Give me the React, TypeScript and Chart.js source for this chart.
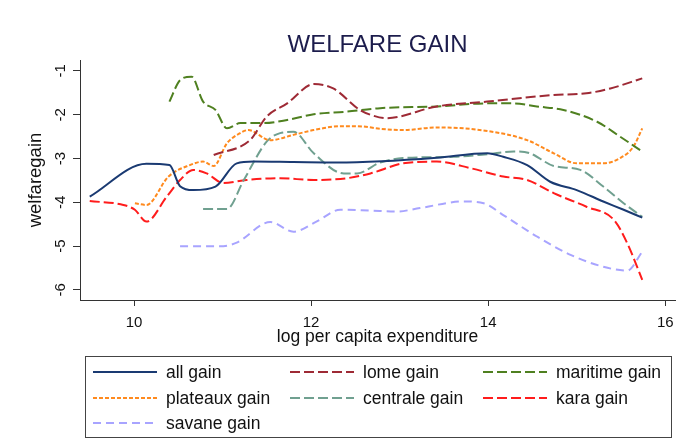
import React, { useEffect, useRef } from "react";
import { Chart, registerables } from "chart.js";

Chart.register(...registerables);

const FONT = "'Liberation Sans', Arial, sans-serif";

const xTicks = [10, 12, 14, 16];
const yTicks = [-6, -5, -4, -3, -2, -1];

const allX = [9.50, 10.14, 10.40, 10.52, 10.67, 10.92, 11.16, 11.35, 11.8, 12.3, 12.8, 13.42, 13.99, 14.17, 14.44, 14.70, 15.00, 15.30, 15.53, 15.74];
const allY = [-3.87, -3.12, -3.15, -3.63, -3.72, -3.64, -3.11, -3.07, -3.08, -3.09, -3.06, -2.98, -2.88, -2.96, -3.15, -3.53, -3.72, -3.98, -4.17, -4.35];

const lomeX = [10.90, 11.31, 11.50, 11.73, 12.03, 12.25, 12.55, 12.67, 12.85, 13.42, 13.99, 14.74, 15.11, 15.38, 15.74];
const lomeY = [-2.92, -2.58, -2.04, -1.74, -1.30, -1.40, -1.89, -2.00, -2.08, -1.81, -1.70, -1.55, -1.51, -1.40, -1.17];

const maritimeX = [10.40, 10.52, 10.65, 10.78, 10.92, 11.05, 11.20, 11.46, 11.73, 12.03, 12.40, 12.78, 13.42, 13.99, 14.29, 14.55, 14.85, 15.23, 15.49, 15.74];
const maritimeY = [-1.70, -1.21, -1.13, -1.70, -1.89, -2.31, -2.19, -2.19, -2.12, -1.99, -1.93, -1.85, -1.81, -1.74, -1.74, -1.81, -1.89, -2.16, -2.50, -2.84];

const plateauxX = [10.01, 10.14, 10.39, 10.63, 10.78, 10.90, 11.05, 11.18, 11.29, 11.54, 11.80, 12.03, 12.33, 12.59, 12.78, 13.04, 13.42, 13.99, 14.44, 14.74, 15.00, 15.30, 15.49, 15.64, 15.74];
const plateauxY = [-4.02, -4.06, -3.41, -3.15, -3.07, -3.17, -2.65, -2.44, -2.35, -2.58, -2.46, -2.35, -2.26, -2.27, -2.32, -2.35, -2.29, -2.37, -2.58, -2.88, -3.11, -3.11, -2.99, -2.73, -2.31];

const centraleX = [10.78, 11.05, 11.24, 11.50, 11.65, 11.80, 12.03, 12.37, 12.52, 12.78, 13.04, 13.61, 13.99, 14.29, 14.47, 14.74, 15.04, 15.30, 15.53, 15.74];
const centraleY = [-4.15, -4.15, -3.49, -2.61, -2.42, -2.39, -2.88, -3.34, -3.34, -3.09, -2.99, -2.96, -2.90, -2.84, -2.88, -3.17, -3.26, -3.64, -4.02, -4.33];

const karaX = [9.50, 9.88, 10.01, 10.14, 10.37, 10.52, 10.67, 10.82, 11.01, 11.27, 11.65, 12.03, 12.40, 12.67, 13.04, 13.42, 13.80, 14.17, 14.44, 14.74, 15.11, 15.42, 15.57, 15.74];
const karaY = [-3.97, -4.06, -4.17, -4.44, -3.87, -3.49, -3.26, -3.34, -3.56, -3.49, -3.45, -3.49, -3.45, -3.34, -3.11, -3.07, -3.22, -3.41, -3.49, -3.79, -4.10, -4.40, -4.93, -5.77];

const savaneX = [10.52, 11.01, 11.16, 11.54, 11.80, 12.06, 12.33, 12.67, 12.97, 13.23, 13.72, 13.95, 14.17, 14.55, 14.93, 15.30, 15.57, 15.74];
const savaneY = [-5.0, -5.0, -4.92, -4.45, -4.67, -4.44, -4.17, -4.19, -4.21, -4.13, -3.98, -4.02, -4.29, -4.78, -5.20, -5.47, -5.56, -5.13];

const seriesNames = ["all gain", "lome gain", "maritime gain", "plateaux gain", "centrale gain", "kara gain", "savane gain"];
const seriesX = [allX, lomeX, maritimeX, plateauxX, centraleX, karaX, savaneX];
const seriesY = [allY, lomeY, maritimeY, plateauxY, centraleY, karaY, savaneY];
const seriesColors = ["#1a3a72", "#9e2a35", "#4f8020", "#ff8a1e", "#70a090", "#ff1c1c", "#a8a4ff"];
const seriesDash = [[], [10, 4], [10, 4], [4, 2], [10, 4], [10, 4], [8, 5]];

const TITLE = "WELFARE GAIN";
const AXIS = "#333333";

const titlePlugin = {
  id: "stataTitle",
  afterDraw(chart: any) {
    const { ctx, chartArea } = chart;
    ctx.save();
    ctx.font = `24px ${FONT}`;
    ctx.fillStyle = "#1c1c4c";
    ctx.textAlign = "center";
    ctx.textBaseline = "alphabetic";
    ctx.fillText(TITLE, (chartArea.left + chartArea.right) / 2, 52);
    ctx.restore();
  },
};

const yLabelPlugin = {
  id: "rotatedYTicks",
  afterDraw(chart: any) {
    const { ctx } = chart;
    const y = chart.scales.y;
    ctx.save();
    ctx.font = `15px ${FONT}`;
    ctx.fillStyle = "#111";
    ctx.textAlign = "center";
    ctx.textBaseline = "middle";
    y.ticks.forEach((t: any) => {
      const py = y.getPixelForValue(t.value);
      ctx.save();
      ctx.translate(61, py);
      ctx.rotate(-Math.PI / 2);
      ctx.fillText(String(t.value), 0, 0);
      ctx.restore();
    });
    ctx.restore();
  },
};

const legendPlugin = {
  id: "stataLegend",
  afterDraw(chart: any) {
    const { ctx } = chart;
    ctx.save();
    ctx.strokeStyle = "#444";
    ctx.lineWidth = 1;
    ctx.strokeRect(85.5, 356.5, 586, 81);
    const colX = [93, 290, 483];
    const rowY = [372, 398, 423];
    chart.data.datasets.forEach((ds: any, i: number) => {
      const c = i % 3;
      const r = Math.floor(i / 3);
      const x0 = colX[c];
      const y0 = rowY[r];
      ctx.save();
      ctx.strokeStyle = ds.borderColor;
      ctx.lineWidth = 2;
      ctx.setLineDash(ds.borderDash || []);
      ctx.beginPath();
      ctx.moveTo(x0, y0);
      ctx.lineTo(x0 + 64, y0);
      ctx.stroke();
      ctx.restore();
      ctx.font = `17.5px ${FONT}`;
      ctx.fillStyle = "#111";
      ctx.textAlign = "left";
      ctx.textBaseline = "middle";
      ctx.fillText(ds.label, x0 + 73, y0 + 1);
    });
    ctx.restore();
  },
};

export default function App() {
  const ref = useRef<HTMLCanvasElement>(null);
  useEffect(() => {
    if (!ref.current) return;
    const datasets = seriesNames.map((name, i) => ({
      label: name,
      data: seriesX[i].map((x, j) => ({ x, y: seriesY[i][j] })),
      borderColor: seriesColors[i],
      backgroundColor: seriesColors[i],
      borderDash: seriesDash[i],
      borderWidth: 2,
      pointRadius: 0,
      showLine: true,
      fill: false,
      cubicInterpolationMode: "monotone" as const,
    }));
    const chart = new Chart(ref.current, {
      type: "scatter",
      data: { datasets },
      options: {
        animation: false,
        responsive: false,
        maintainAspectRatio: false,
        layout: { padding: { left: 0, top: 60, right: 14, bottom: 88 } },
        plugins: {
          legend: { display: false },
          title: { display: false },
          tooltip: { enabled: false },
        },
        scales: {
          x: {
            type: "linear",
            min: 9.39,
            max: 16.11,
            afterBuildTicks: (s: any) => {
              s.ticks = xTicks.map((v) => ({ value: v }));
            },
            afterFit: (s: any) => {
              s.height = 60;
            },
            border: { display: true, color: AXIS, width: 1 },
            grid: { display: true, drawOnChartArea: false, drawTicks: true, tickLength: 6, color: AXIS },
            ticks: { font: { family: FONT, size: 15 }, color: "#111", padding: 8, maxRotation: 0, autoSkip: false },
            title: {
              display: true,
              text: "log per capita expenditure",
              font: { family: FONT, size: 17.5 },
              color: "#111",
              padding: { top: 0, bottom: 12 },
            },
          },
          y: {
            type: "linear",
            min: -6.23,
            max: -0.75,
            afterBuildTicks: (s: any) => {
              s.ticks = yTicks.map((v) => ({ value: v }));
            },
            afterFit: (s: any) => {
              s.width = 80;
            },
            border: { display: true, color: AXIS, width: 1 },
            grid: { display: true, drawOnChartArea: false, drawTicks: true, tickLength: 7, color: AXIS },
            ticks: { display: false },
            title: {
              display: true,
              text: "welfaregain",
              font: { family: FONT, size: 18.5 },
              color: "#111",
              padding: { top: 25, bottom: 0 },
            },
          },
        },
      },
      plugins: [titlePlugin, yLabelPlugin, legendPlugin],
    });
    return () => chart.destroy();
  }, []);
  return (
    <div style={{ position: "fixed", left: 0, top: 0, width: 689, height: 448, background: "#fff" }}>
      <canvas ref={ref} width={689} height={448} />
    </div>
  );
}
